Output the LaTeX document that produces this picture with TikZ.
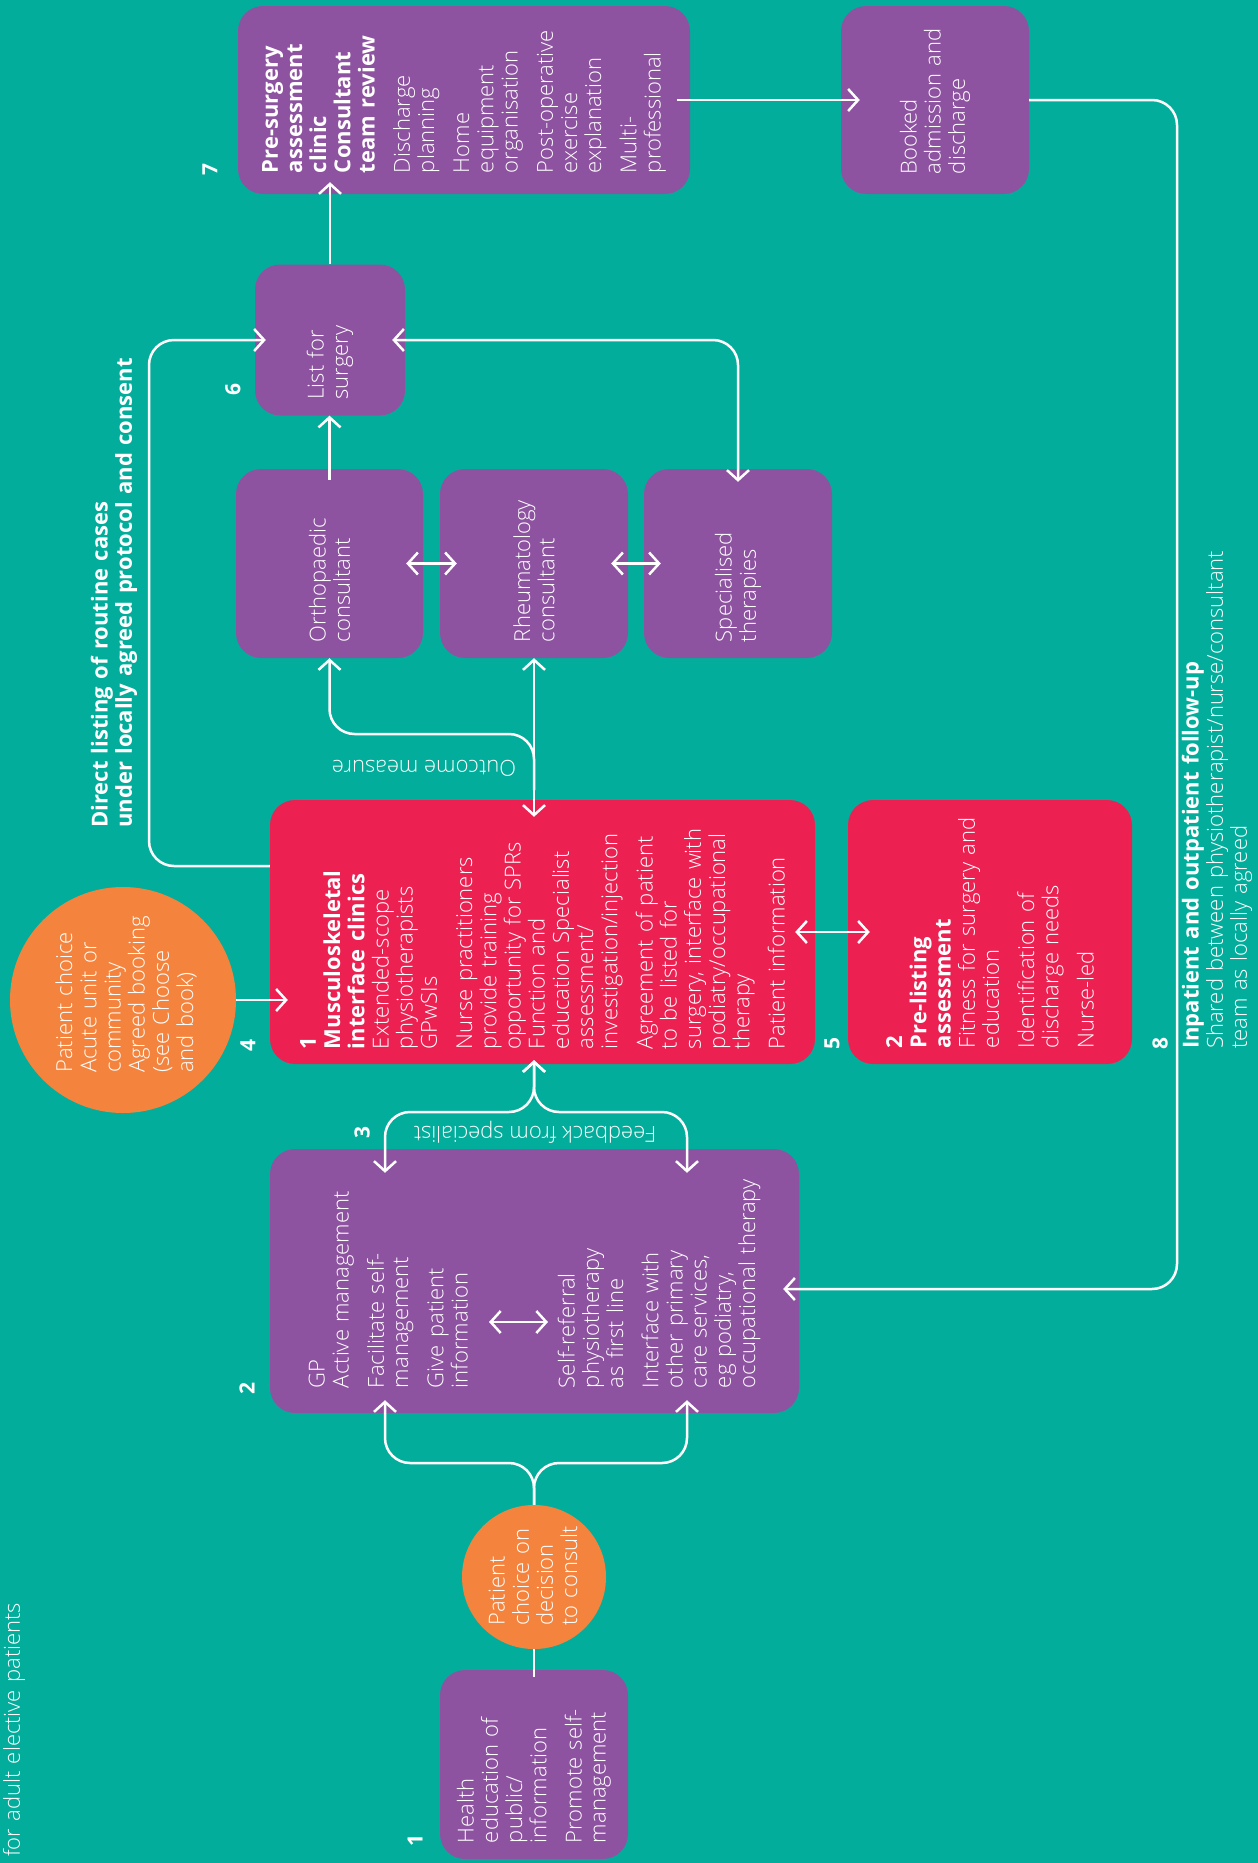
\documentclass[tikz,border=0pt]{standalone}
\usepackage{fontspec}
\setmainfont{Open Sans Light}[BoldFont={Open Sans Bold}]
\usetikzlibrary{arrows.meta}
\definecolor{bgteal}{RGB}{2,174,155}
\definecolor{boxpurple}{RGB}{142,83,160}
\definecolor{boxred}{RGB}{236,33,82}
\definecolor{circorange}{RGB}{244,132,61}
\begin{document}
\begin{tikzpicture}[x=1pt,y=-1pt,
  pbox/.style={fill=boxpurple, rounded corners=25pt, inner sep=0pt},
  rbox/.style={fill=boxred, rounded corners=25pt, inner sep=0pt},
  obub/.style={circle, fill=circorange, inner sep=0pt},
  txt/.style={text=white, inner sep=0pt, align=left, text width=540pt, rotate=90, anchor=west, font=\fontsize{22}{24.2}\selectfont},
  lbl/.style={text=white, inner sep=0pt, font=\fontsize{22}{24.2}\selectfont},
  num/.style={text=white, inner sep=0pt, rotate=90, font=\fontsize{21}{24}\selectfont\bfseries},
  conn/.style={draw=white, line width=2.5pt, -{Straight Barb[length=10pt,width=22pt]}},
  conn2/.style={draw=white, line width=2.5pt, {Straight Barb[length=10pt,width=22pt]}-{Straight Barb[length=10pt,width=22pt]}},
  plainline/.style={draw=white, line width=2.5pt},
]
\useasboundingbox (0,0) rectangle (1258,1863);
\fill[bgteal] (0,0) rectangle (1258,1863);

% boxes
\node[pbox, minimum width=452pt, minimum height=188pt] (presurg) at (464,100) {};
\node[pbox, minimum width=188pt, minimum height=188pt] (booked) at (935,100) {};
\node[pbox, minimum width=150pt, minimum height=151pt] (list) at (330,340) {};
\node[pbox, minimum width=187pt, minimum height=189pt] (ortho) at (329.5,563.5) {};
\node[pbox, minimum width=188pt, minimum height=189pt] (rheum) at (534,563.5) {};
\node[pbox, minimum width=188pt, minimum height=189pt] (spec) at (738,563.5) {};
\node[rbox, minimum width=545pt, minimum height=264pt] (msk) at (542.5,932) {};
\node[rbox, minimum width=284pt, minimum height=264pt] (prelist) at (990,932) {};
\node[pbox, minimum width=529pt, minimum height=264pt] (gp) at (534.5,1281) {};
\node[pbox, minimum width=188pt, minimum height=189pt] (health) at (534,1764.5) {};
\node[obub, minimum size=226pt] (choiceA) at (123,1000) {};
\node[obub, minimum size=144pt] (choiceB) at (534,1577) {};

% box texts
\node[txt] (tpresurg) at ([yshift=21pt]presurg.south) {\textbf{Pre-surgery\\assessment\\clinic\\Consultant\\team review}\\[11pt]Discharge\\planning\\[11pt]Home\\equipment\\organisation\\[11pt]Post-operative\\exercise\\explanation\\[11pt]Multi-\\professional};
\node[txt] (tbooked) at ([yshift=20pt]booked.south) {Booked\\admission and\\discharge};
\node[txt] (tlist) at ([yshift=16pt]list.south) {List for\\surgery};
\node[txt] (tortho) at ([yshift=16pt]ortho.south) {Orthopaedic\\consultant};
\node[txt] (trheum) at ([yshift=16pt]rheum.south) {Rheumatology\\consultant};
\node[txt] (tspec) at ([yshift=16pt]spec.south) {Specialised\\therapies};
\node[txt] (tmsk) at ([yshift=15pt]msk.south) {\textbf{1\\Musculoskeletal\\interface clinics}\\Extended-scope\\physiotherapists\\GPwSIs\\[11pt]Nurse practitioners\\provide training\\opportunity for SPRs\\Function and\\education Specialist\\assessment/\\investigation/injection\\[11pt]Agreement of patient\\to be listed for\\surgery, interface with\\podiatry/occupational\\therapy\\[11pt]Patient information};
\node[txt] (tprelist) at ([yshift=16pt]prelist.south) {\textbf{2\\Pre-listing\\assessment}\\Fitness for surgery and\\education\\[11pt]Identification of\\discharge needs\\[11pt]Nurse-led};
\node[txt] (tgp) at ([yshift=25pt]gp.south) {GP\\Active management\\[11pt]Facilitate self-\\management\\[11pt]Give patient\\information\\[83pt]Self-referral\\physiotherapy\\as first line\\[11pt]Interface with\\other primary\\care services,\\eg podiatry,\\occupational therapy};
\node[txt] (thealth) at ([yshift=16pt]health.south) {Health\\education of\\public/\\information\\[11pt]Promote self-\\management};
\node[txt] (tchoiceA) at ([xshift=3pt,yshift=-73pt]choiceA.center) {Patient choice\\Acute unit or\\community\\Agreed booking\\(see Choose\\and book)};
\node[txt] (tchoiceB) at ([xshift=-1pt,yshift=-49pt]choiceB.center) {Patient\\choice on\\decision\\to consult};

% free texts
\node[txt] (tcaption) at (14,1857) {for adult elective patients};
\node[txt] (tdirect) at (114,828) {\textbf{Direct listing of routine cases\\under locally agreed protocol and consent}};
\node[txt] (tfollow) at (1217,1049) {\textbf{Inpatient and outpatient follow-up}\\Shared between physiotherapist/nurse/consultant\\team as locally agreed};
\node[lbl, rotate=180] (toutcome) at (424,768) {Outcome measure};
\node[lbl, rotate=180] (tfeedback) at (535,1132) {Feedback from specialist};

% numbers
\node[num] (n7) at (210,170) {7};
\node[num] (n6) at (233,390) {6};
\node[num] (n4) at (248,1045) {4};
\node[num] (n5) at (832,1043) {5};
\node[num] (n8) at (1160,1043) {8};
\node[num] (n3) at (362,1132) {3};
\node[num] (n2) at (247,1388) {2};
\node[num] (n1) at (415,1840) {1};

% coordinates
\coordinate (fuA) at (1177,100);
\coordinate (fuB) at (1177,1289);
\coordinate (dlA) at (149,866);
\coordinate (dlB) at (149,340);
\coordinate (omA) at (534,790);
\coordinate (omB) at (534,734);
\coordinate (fbC) at (534,1112);
\coordinate (fbL) at (385,1112);
\coordinate (fbR) at (687,1112);
\coordinate (cbC) at (534,1463);
\coordinate (cbL) at (385,1463);
\coordinate (cbR) at (687,1463);
\coordinate (gpA) at (489,1322);
\coordinate (gpB) at (548,1322);

% connectors
\draw[conn, shorten <=-13pt, shorten >=-19pt] (presurg.east) -- (booked.west);
\draw[conn, rounded corners=25pt, shorten >=-16pt] (booked.east) -- (fuA) -- (fuB) -- (gp.east |- fuB);
\draw[conn, shorten >=-12pt] (list.north) -- (list.north |- presurg.south);
\draw[conn, shorten <=-11pt] (ortho.north) -- (ortho.north |- list.south);
\draw[conn, rounded corners=25pt, shorten >=-11pt] (msk.west |- dlA) -- (dlA) -- (dlB) -- (list.west |- dlB);
\draw[conn2, rounded corners=25pt, shorten <=-13pt, shorten >=-13pt] (list.east) -- (spec.north |- list.east) -- (spec.north);
\draw[conn2, shorten <=-17pt, shorten >=-17pt] (ortho.east) -- (rheum.west);
\draw[conn2, shorten <=-17pt, shorten >=-17pt] (rheum.east) -- (spec.west);
\draw[conn2, shorten >=-17pt] (rheum.south) -- (rheum.south |- msk.north);
\draw[conn, rounded corners=25pt] (omA) -- (omB) -- (ortho.south |- omB) -- (ortho.south);
\draw[conn2, rounded corners=25pt, shorten <=-4pt, shorten >=-24pt] (msk.south -| fbC) -- (fbC) -- (fbL) -- (fbL |- gp.north);
\draw[conn2, rounded corners=25pt, shorten <=-4pt, shorten >=-24pt] (msk.south -| fbC) -- (fbC) -- (fbR) -- (fbR |- gp.north);
\draw[conn, rounded corners=25pt, shorten >=-13pt] (choiceB.north) -- (cbC) -- (cbL) -- (cbL |- gp.south);
\draw[conn, rounded corners=25pt, shorten >=-13pt] (choiceB.north) -- (cbC) -- (cbR) -- (cbR |- gp.south);
\draw[plainline, shorten >=-7pt] (choiceB.south) -- (health.north);
\draw[conn, shorten >=-18pt] (choiceA.east) -- (choiceA.east -| msk.west);
\draw[conn2, shorten <=-20pt, shorten >=-22pt] (msk.east) -- (prelist.west);
\draw[conn2] (gpA) -- (gpB);
\end{tikzpicture}
\end{document}
